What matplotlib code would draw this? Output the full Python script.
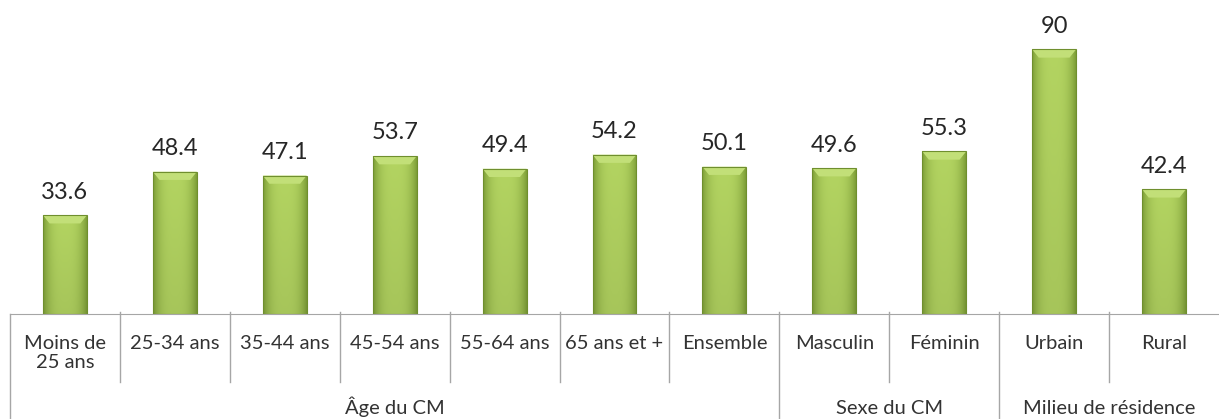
import numpy as np
import matplotlib.pyplot as plt
from matplotlib.colors import to_rgb

categories = ['Moins de\n25 ans', '25-34 ans', '35-44 ans', '45-54 ans', '55-64 ans',
              '65 ans et +', 'Ensemble', 'Masculin', 'Féminin', 'Urbain', 'Rural']
values = [33.6, 48.4, 47.1, 53.7, 49.4, 54.2, 50.1, 49.6, 55.3, 90, 42.4]
labels = ['33.6', '48.4', '47.1', '53.7', '49.4', '54.2', '50.1', '49.6', '55.3', '90', '42.4']
groups = ['Âge du CM', 'Sexe du CM', 'Milieu de résidence']
group_spans = [(0, 6), (7, 8), (9, 10)]

plt.rcParams['font.family'] = ['Lato', 'DejaVu Sans']

fig = plt.figure(figsize=(12.19, 4.19), dpi=100)
ax = fig.add_axes([10 / 1219, 105 / 419, 1209 / 1219, 294 / 419])

x = np.arange(len(values))
w = 0.4

# gradient image for bars: dark at edges, light in the middle
light = np.array(to_rgb('#b3d461'))
dark = np.array(to_rgb('#7e9f38'))
nx, ny = 60, 200
t = np.linspace(-1, 1, nx)
prof = 1 - np.abs(t) ** 3
img = np.zeros((ny, nx, 3))
for c in range(3):
    img[:, :, c] = dark[c] + (light[c] - dark[c]) * prof[None, :]
vert = np.linspace(0.93, 1.0, ny)[:, None]
img = img * vert[:, :, None]

bars = ax.bar(x, values, width=w, color='none', edgecolor='#6f8f2e', linewidth=0.8, zorder=3)
for b, v in zip(bars, values):
    xi = b.get_x()
    im = ax.imshow(img, extent=(xi, xi + w, 0, v), origin='lower', aspect='auto', zorder=2)
    im.set_clip_path(b)
    # light bevel at the top
    ax.fill([xi, xi + w, xi + w * 0.85, xi + w * 0.15], [v, v, v - 2.8, v - 2.8],
            color='#c2df78', lw=0, zorder=2.5)

for xi, v, lab in zip(x, values, labels):
    ax.annotate(lab, (xi, v), xytext=(0, 12), textcoords='offset points',
                ha='center', va='baseline', fontsize=17, color='#262626')

ax.set_xlim(-0.5, len(values) - 0.5)
ax.set_ylim(0, 100)
ax.set_xticks([])
ax.set_yticks([])
for s in ['top', 'right', 'left']:
    ax.spines[s].set_visible(False)
ax.spines['bottom'].set_color('#a6a6a6')

px = 1 / 294  # one pixel in axes fraction (vertical)
trans = ax.get_xaxis_transform()
for i in range(len(values)):
    ax.text(x[i], -21 * px, categories[i], transform=trans, ha='center', va='top',
            fontsize=14.5, color='#333333', linespacing=1.15)

group_edges = [-0.5, 6.5, 8.5]
for i in range(1, len(values)):
    b = i - 0.5
    bottom = -105 * px if b in group_edges else -68 * px
    ax.plot([b, b], [2 * px, bottom], transform=trans, color='#a6a6a6', lw=1, clip_on=False)
ax.plot([-0.5, -0.5], [0, -105 * px], transform=trans, color='#a6a6a6', lw=1, clip_on=False)

for g, (a, b) in zip(groups, group_spans):
    ax.text((a + b) / 2, -100 * px, g, transform=trans, ha='center', va='baseline',
            fontsize=14.5, color='#333333')

fig.savefig('out.png', dpi=100)
